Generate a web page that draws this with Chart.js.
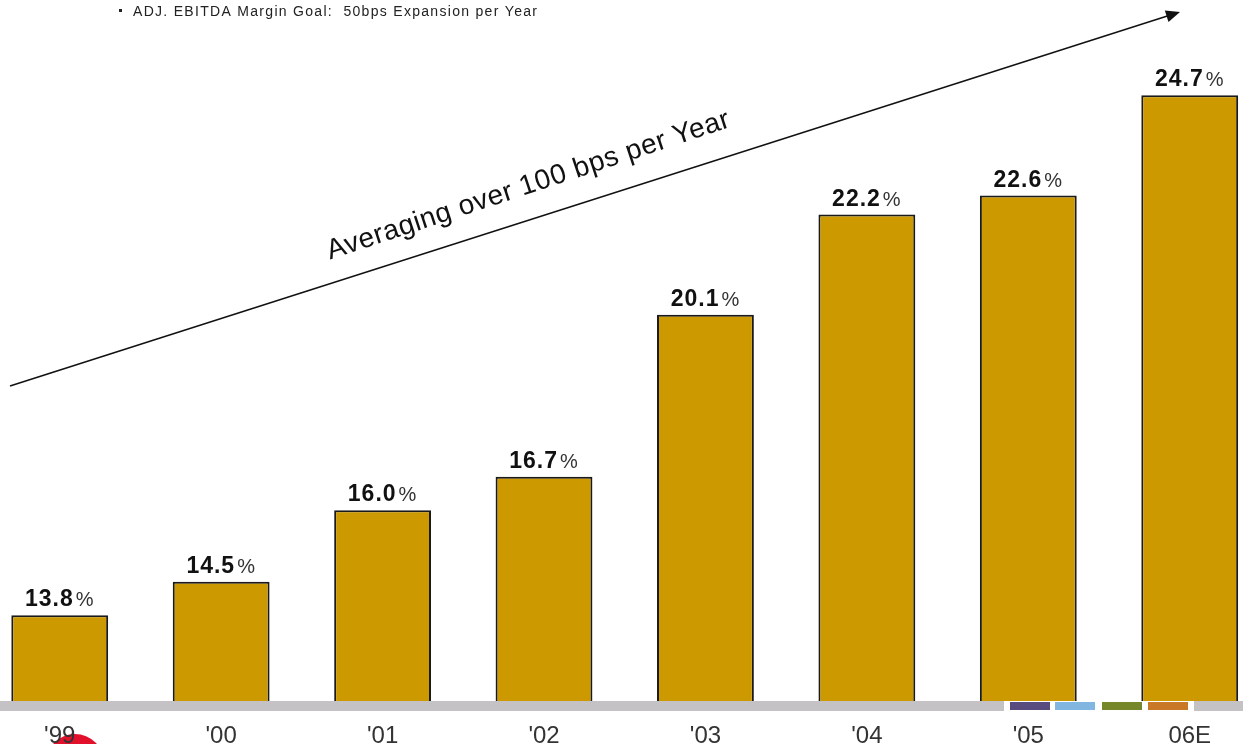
<!DOCTYPE html>
<html>
<head>
<meta charset="utf-8">
<script src="https://cdn.jsdelivr.net/npm/chart.js@4.4.0/dist/chart.umd.min.js"></script>
<style>
  html, body { margin: 0; padding: 0; background: #fff; }
  #wrap { width: 1243px; height: 744px; position: relative; }
</style>
</head>
<body>
<div id="wrap"><canvas id="margin-chart"></canvas></div>
<script>
const years = ["'99", "'00", "'01", "'02", "'03", "'04", "'05", "06E"];
const margins = [13.8, 14.5, 16.0, 16.7, 20.1, 22.2, 22.6, 24.7];
const headline = 'ADJ. EBITDA Margin Goal:  50bps Expansion per Year';
const trendText = 'Averaging over 100 bps per Year';
const stripeColors = ['#574c7d', '#80b6e0', '#76862a', '#c87826'];

const barColor = '#cc9900';
const fontFam = '"Liberation Sans", Arial, sans-serif';

// value labels, baseline strip, arrow and header text
const decorations = {
    id: 'decorations',
    beforeDraw(chart) {
        // red logo fragment, under the axis labels
        const ctx = chart.ctx;
        ctx.save();
        ctx.fillStyle = '#e3102c';
        ctx.beginPath();
        ctx.arc(75, 763, 29, 0, Math.PI * 2);
        ctx.fill();
        ctx.restore();
    },
    afterDatasetsDraw(chart) {
        const ctx = chart.ctx;
        const area = chart.chartArea;
        const meta = chart.getDatasetMeta(0);

        // grey baseline strip with coloured pieces
        ctx.save();
        ctx.fillStyle = '#c4c2c4';
        ctx.fillRect(0, area.bottom, chart.width, 10);
        ctx.fillStyle = '#fff';
        ctx.fillRect(1004, area.bottom, 190, 10);
        const starts = [1010, 1055, 1102, 1148];
        stripeColors.forEach((c, i) => {
            ctx.fillStyle = c;
            ctx.fillRect(starts[i], area.bottom + 1, 40, 8);
        });

        // value labels
        ctx.textBaseline = 'alphabetic';
        ctx.textAlign = 'left';
        meta.data.forEach((bar, i) => {
            const num = margins[i].toFixed(1);
            ctx.letterSpacing = '1px';
            ctx.font = 'bold 23px ' + fontFam;
            const w1 = ctx.measureText(num).width;
            ctx.font = '20px ' + fontFam;
            const w2 = ctx.measureText('%').width;
            const x = bar.x - (w1 + w2 + 2) / 2;
            const y = bar.y - 9;
            ctx.fillStyle = '#111';
            ctx.font = 'bold 23px ' + fontFam;
            ctx.fillText(num, x, y);
            ctx.font = '20px ' + fontFam;
            ctx.fillStyle = '#333';
            ctx.fillText('%', x + w1 + 2, y);
        });

        // header line
        ctx.fillStyle = '#222';
        ctx.fillRect(119, 9, 3, 3);
        ctx.letterSpacing = '1.3px';
        ctx.font = '14px ' + fontFam;
        ctx.fillText(headline, 133, 16);

        // trend arrow
        const x0 = 10, y0 = 386, x1 = 1180, y1 = 12;
        const ang = Math.atan2(y1 - y0, x1 - x0);
        ctx.strokeStyle = '#111';
        ctx.lineWidth = 1.5;
        ctx.beginPath();
        ctx.moveTo(x0, y0);
        ctx.lineTo(x1 - 10 * Math.cos(ang), y1 - 10 * Math.sin(ang));
        ctx.stroke();
        ctx.fillStyle = '#111';
        ctx.beginPath();
        ctx.moveTo(x1, y1);
        ctx.lineTo(x1 - 14 * Math.cos(ang) + 6 * Math.sin(ang), y1 - 14 * Math.sin(ang) - 6 * Math.cos(ang));
        ctx.lineTo(x1 - 14 * Math.cos(ang) - 6 * Math.sin(ang), y1 - 14 * Math.sin(ang) + 6 * Math.cos(ang));
        ctx.closePath();
        ctx.fill();

        // rotated trend text
        ctx.translate(531, 193);
        ctx.rotate(-0.32);
        ctx.letterSpacing = '0.5px';
        ctx.font = '28px ' + fontFam;
        ctx.textAlign = 'center';
        ctx.fillStyle = '#111';
        ctx.fillText(trendText, 0, 0);
        ctx.restore();
    }
};

new Chart(document.querySelector('#margin-chart').getContext('2d'), {
    type: 'bar',
    data: {
        datasets: [{
            data: margins.map((m, i) => ({ x: i, y: m })),
            backgroundColor: barColor,
            borderColor: '#1a1a1a',
            borderWidth: 2,
            borderSkipped: false,
            barPercentage: 0.75,
            categoryPercentage: 0.8
        }]
    },
    options: {
        responsive: true,
        maintainAspectRatio: false,
        animation: false,
        layout: { padding: 0 },
        plugins: {
            legend: { display: false },
            tooltip: { enabled: false }
        },
        scales: {
            x: {
                type: 'linear',
                offset: false,
                min: -0.37,
                max: 7.33,
                grid: { display: false },
                border: { display: false },
                afterFit: scale => { scale.height = 43; },
                afterBuildTicks: scale => {
                    scale.ticks = years.map((y, i) => ({ value: i }));
                },
                ticks: {
                    autoSkip: false,
                    maxRotation: 0,
                    padding: 13,
                    color: '#333',
                    font: { family: fontFam, size: 24 },
                    callback: (v) => years[v]
                }
            },
            y: {
                display: false,
                min: 12,
                max: 26.7
            }
        }
    },
    plugins: [decorations]
});
</script>
</body>
</html>
